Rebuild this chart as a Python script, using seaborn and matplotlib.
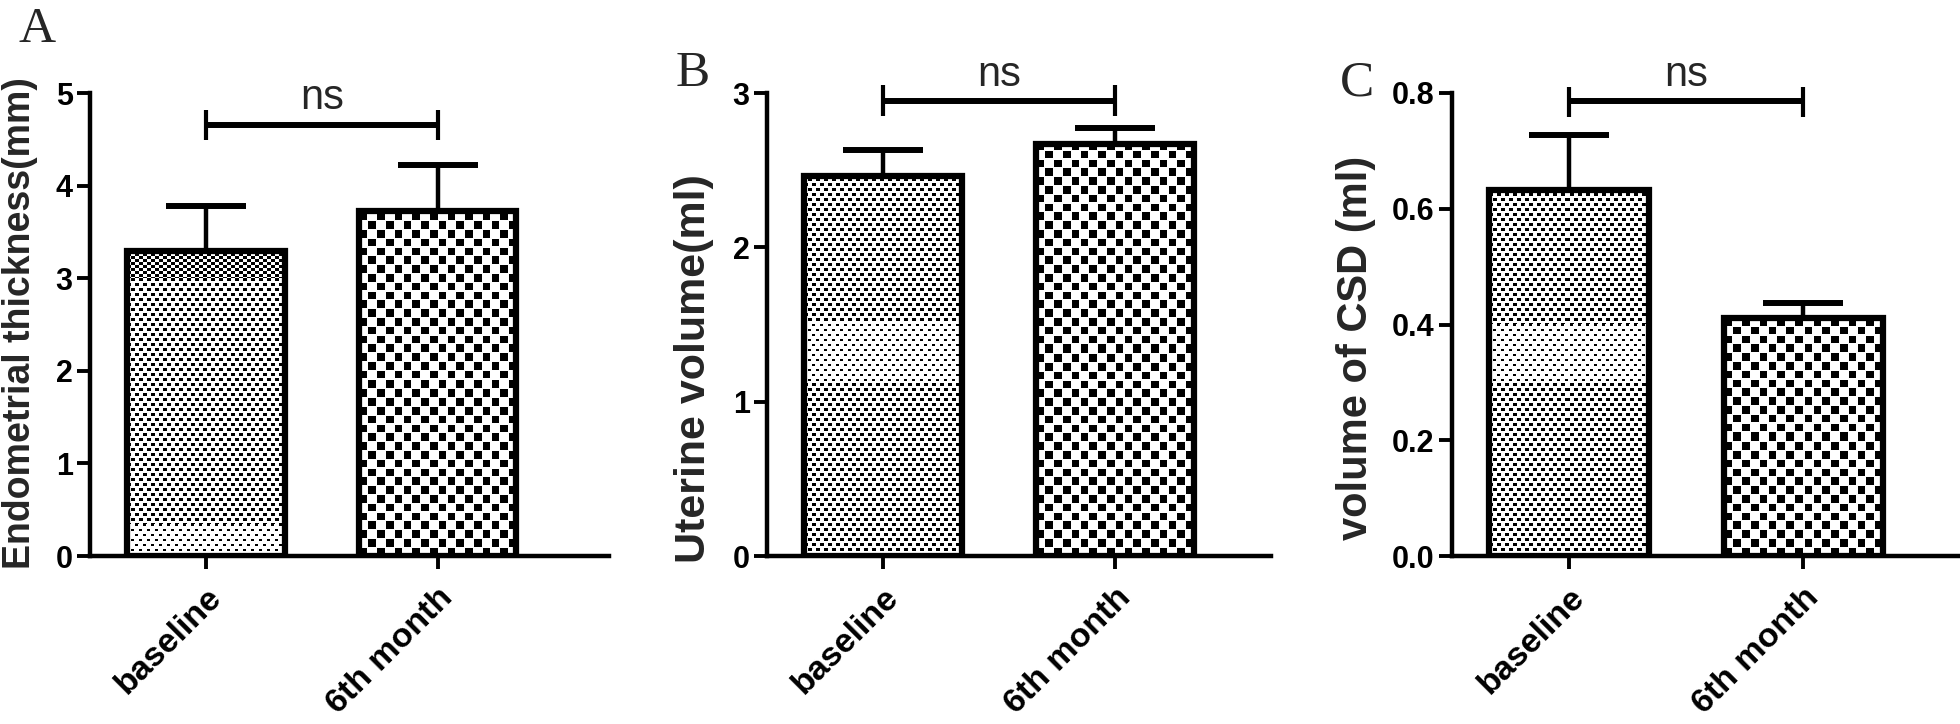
import numpy as np
import pandas as pd
import matplotlib
matplotlib.use('Agg')
import matplotlib.pyplot as plt
import seaborn as sns

sns.set_style('ticks')
plt.rcParams['font.family'] = ['Liberation Sans', 'DejaVu Sans']

groups = ['baseline', '6th month']

thick_mean = [3.29, 3.73]
thick_err = [0.49, 0.49]
uter_mean = [2.46, 2.67]
uter_err = [0.17, 0.10]
csd_mean = [0.632, 0.412]
csd_err = [0.095, 0.026]

thick_ticks = [0, 1, 2, 3, 4, 5]
uter_ticks = [0, 1, 2, 3]
csd_ticks = [0.0, 0.2, 0.4, 0.6, 0.8]

# letter, ylabel, means, errs, yticks, fmt, bracket (line, low, high, ns)
panels = [
    ('A', 'Endometrial thickness(mm)', thick_mean, thick_err, thick_ticks, '{:.0f}',
     (4.65, 4.49, 4.82, 4.73)),
    ('B', 'Uterine volume(ml)', uter_mean, uter_err, uter_ticks, '{:.0f}',
     (2.95, 2.85, 3.05, 2.99)),
    ('C', 'volume of CSD (ml)', csd_mean, csd_err, csd_ticks, '{:.1f}',
     (0.786, 0.759, 0.81, 0.797)),
]

# layout in pixels: left, width, xlim right, ylabel (x, y, size), letter pos,
# moire bands of the fine pattern (light, dark) in data units
W, H = 1960, 724
BOTTOM, TOP = 556, 93
boxes = [
    (90, 519, 1.74, (-0.100, 0.503, 27), (18, 42), [(0.0, 0.35)], [(3.0, 3.3)]),
    (767, 504, 1.67, (-0.105, 0.404, 31), (676, 86), [(1.12, 1.52)], []),
    (1452, 508, 1.67, (-0.150, 0.45, 30), (1340, 96), [(0.30, 0.40)], []),
]

fig = plt.figure(figsize=(W / 100, H / 100), dpi=100)


def fine_pattern(nx, ny, vals, light, dark):
    img = np.ones((ny, nx))
    xx = np.arange(nx)
    for r in range(ny):
        v = vals[r]
        if any(a <= v <= b for a, b in dark):
            cy = r // 3
            row = ((xx // 4 + cy) % 2 == 0)
        elif any(a <= v <= b for a, b in light):
            cy = r // 5
            row = ((xx // 4 + cy) % 2 == 0) & (xx % 4 < 3) & (r % 5 < 2)
        else:
            cy = r // 5
            row = ((xx // 4 + cy) % 2 == 0) & (r % 5 < 3)
        img[r, row] = 0
    return img


def coarse_pattern(nx, ny, cell=8.8, dot=7.6):
    xx, yy = np.meshgrid(np.arange(nx), np.arange(ny))
    cx, cy = (xx // cell).astype(int), (yy // cell).astype(int)
    black = ((cx + cy) % 2 == 0) & ((xx % cell) < dot) & ((yy % cell) < dot)
    return np.where(black, 0.0, 1.0)


for (letter, ylab, means, errs, ticks, fmt, br), box in zip(panels, boxes):
    l, w, xr, labinfo, lpos, light, dark = box
    ax = fig.add_axes([l / W, (H - BOTTOM) / H, w / W, (BOTTOM - TOP) / H])
    df = pd.DataFrame({'time': groups, 'value': means})
    sns.barplot(data=df, x='time', y='value', ax=ax, color='white',
                edgecolor='black', linewidth=4.5, width=0.68, errorbar=None,
                saturation=1)
    ax.set_xlim(-0.5, xr)
    ax.set_ylim(0, ticks[-1])

    for k, p in enumerate(ax.patches):
        x0, y0 = p.get_x(), p.get_y()
        x1, y1 = x0 + p.get_width(), y0 + p.get_height()
        (px0, py0), (px1, py1) = ax.transData.transform([(x0, y0), (x1, y1)])
        nx, ny = int(round(px1 - px0)), int(round(py1 - py0))
        if k == 0:
            vals = y0 + (np.arange(ny) + 0.5) / ny * (y1 - y0)
            arr = fine_pattern(nx, ny, vals, light, dark)
        else:
            arr = coarse_pattern(nx, ny)
        img = ax.imshow(arr, cmap='gray', vmin=0, vmax=1, extent=(x0, x1, y0, y1),
                        origin='lower', interpolation='nearest', aspect='auto',
                        zorder=1.5)
        img.set_clip_path(p)
        p.set_facecolor('none')
        p.set_zorder(3)
        centre = x0 + p.get_width() / 2
        ax.errorbar(centre, means[k], yerr=[[0], [errs[k]]], color='black',
                    elinewidth=3.2, capsize=29, capthick=4.3, zorder=1)
    ax.set_xlim(-0.5, xr)
    ax.set_ylim(0, ticks[-1])

    # significance bracket
    line, lo, hi, nsy = br
    ax.plot([0, 1], [line, line], color='black', lw=4.3, clip_on=False,
            solid_capstyle='butt')
    for xe in (0, 1):
        ax.plot([xe, xe], [lo, hi], color='black', lw=3.0, clip_on=False,
                solid_capstyle='butt')
    ax.text(0.5, nsy, 'ns', ha='center', va='bottom', fontsize=30,
            clip_on=False)

    ax.set_yticks(ticks)
    ax.set_yticklabels([fmt.format(t) for t in ticks], fontsize=22,
                       fontweight='bold')
    ax.set_xticks([0, 1])
    ax.set_xticklabels(groups, rotation=45, ha='right', rotation_mode='anchor',
                       fontsize=24.5, fontweight='bold')
    ax.set_xlabel('')
    labx, laby, labsize = labinfo
    ax.set_ylabel(ylab, fontsize=labsize, fontweight='bold')
    ax.yaxis.set_label_coords(labx, laby)
    ax.tick_params(axis='both', width=2.8, length=9.5, color='black',
                   labelcolor='black', pad=3)
    ax.tick_params(axis='x', pad=9)
    sns.despine(ax=ax)
    for s in ('left', 'bottom'):
        ax.spines[s].set_linewidth(3.2)
        ax.spines[s].set_color('black')
    ax.set_facecolor('none')

    fig.text(lpos[0] / W, 1 - lpos[1] / H, letter, fontsize=37,
             family=['Liberation Serif', 'DejaVu Serif'], va='baseline')

fig.savefig('out.png', dpi=100, facecolor='white')
